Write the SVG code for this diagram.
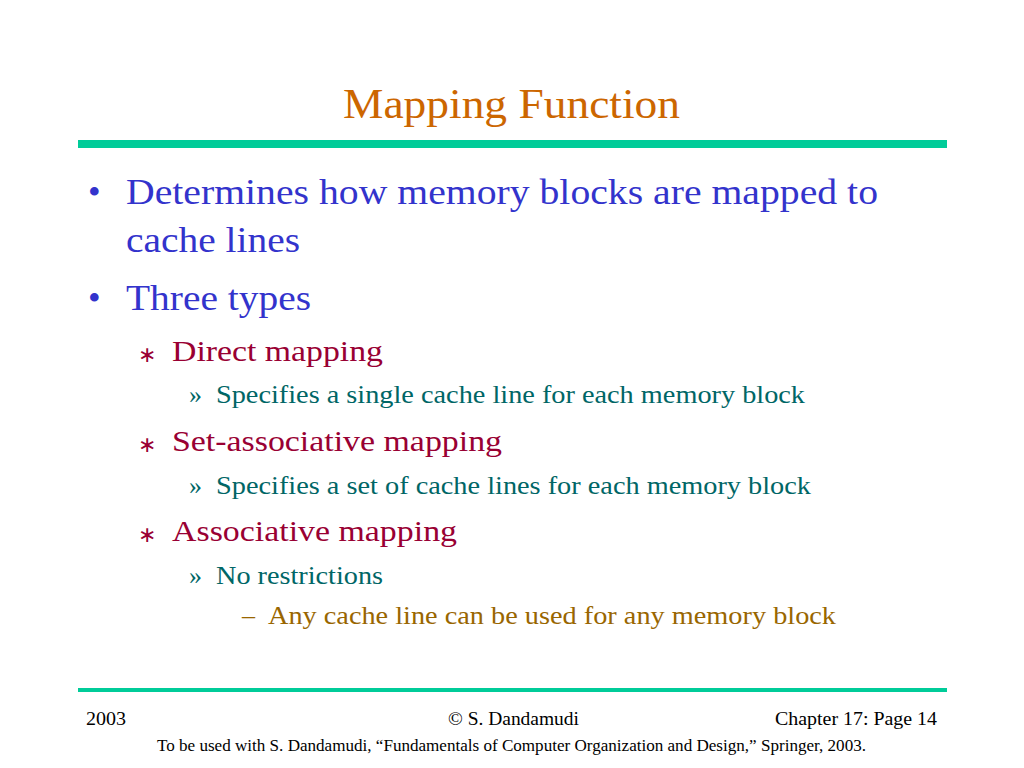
<svg xmlns="http://www.w3.org/2000/svg" width="1024" height="768" viewBox="0 0 1024 768">
<style>
text{font-family:"Liberation Serif","Times New Roman",serif}
.t{fill:#CC6600;font-size:43px}
.b{fill:#3333CC;font-size:36px}
.s{fill:#990033;font-size:30px}
.a{fill:#990033;font-size:22px}
.r{fill:#006666;font-size:26px}
.d{fill:#996600;font-size:26px}
.f{fill:#000;font-size:19px}
</style>
<rect width="1024" height="768" fill="#fff"/>
<text class="t" x="343" y="118" textLength="337" lengthAdjust="spacingAndGlyphs">Mapping Function</text>
<rect x="78" y="140" width="869" height="8" fill="#00CC99"/>
<text class="b" x="88" y="204">•</text><text class="b" x="126" y="204" textLength="752" lengthAdjust="spacingAndGlyphs">Determines how memory blocks are mapped to</text>
<text class="b" x="126" y="252" textLength="174" lengthAdjust="spacingAndGlyphs">cache lines</text>
<text class="b" x="88" y="310">•</text><text class="b" x="126" y="310" textLength="185" lengthAdjust="spacingAndGlyphs">Three types</text>
<text class="a" x="138" y="362">∗</text><text class="s" x="172" y="361" textLength="211" lengthAdjust="spacingAndGlyphs">Direct mapping</text>
<text class="r" x="189" y="403">»</text><text class="r" x="216" y="403" textLength="589" lengthAdjust="spacingAndGlyphs">Specifies a single cache line for each memory block</text>
<text class="a" x="138" y="452">∗</text><text class="s" x="172" y="451" textLength="330" lengthAdjust="spacingAndGlyphs">Set-associative mapping</text>
<text class="r" x="189" y="494">»</text><text class="r" x="216" y="494" textLength="595" lengthAdjust="spacingAndGlyphs">Specifies a set of cache lines for each memory block</text>
<text class="a" x="138" y="542">∗</text><text class="s" x="172" y="541" textLength="285" lengthAdjust="spacingAndGlyphs">Associative mapping</text>
<text class="r" x="189" y="584">»</text><text class="r" x="216" y="584" textLength="167" lengthAdjust="spacingAndGlyphs">No restrictions</text>
<text class="d" x="242" y="624">–</text><text class="d" x="268" y="624" textLength="568" lengthAdjust="spacingAndGlyphs">Any cache line can be used for any memory block</text>
<rect x="78" y="688" width="869" height="4" fill="#00CC99"/>
<text class="f" x="86" y="725" textLength="40" lengthAdjust="spacingAndGlyphs">2003</text>
<text class="f" x="448" y="725" textLength="131" lengthAdjust="spacingAndGlyphs">© S. Dandamudi</text>
<text class="f" x="775" y="725" textLength="162" lengthAdjust="spacingAndGlyphs">Chapter 17: Page 14</text>
<text x="157" y="751" style="font-size:16px" textLength="709" lengthAdjust="spacingAndGlyphs">To be used with S. Dandamudi, “Fundamentals of Computer Organization and Design,” Springer, 2003.</text>
</svg>
